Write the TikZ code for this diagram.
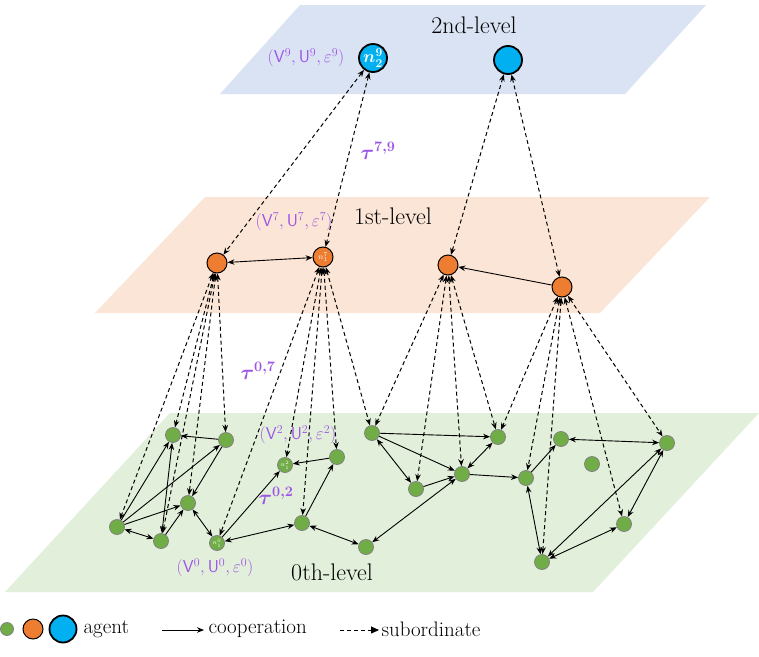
\documentclass[tikz,border=0pt]{standalone}
\usepackage{tikz}
\usepackage{bm}
\usetikzlibrary{graphs,arrows.meta}
\definecolor{planeblue}{RGB}{218,227,243}
\definecolor{planeorange}{RGB}{251,229,214}
\definecolor{planegreen}{RGB}{226,239,218}
\definecolor{agentgreen}{RGB}{112,173,71}
\definecolor{agentorange}{RGB}{237,125,49}
\definecolor{agentblue}{RGB}{0,176,240}
\definecolor{tuplepurple}{RGB}{158,84,230}
\tikzset{
    agent0/.style ={
        shape=circle,
        draw=gray,
        fill=agentgreen,
        line width=0.8pt,
        text=white,
        inner sep=0pt,
        font=\fontsize{6}{6}\selectfont,
        minimum size=15pt
    },
    agent1/.style ={
        shape=circle,
        draw=black,
        fill=agentorange,
        line width=1pt,
        text=white,
        inner sep=0pt,
        font=\fontsize{8}{8}\selectfont,
        minimum size=20pt
    },
    agent2/.style ={
        shape=circle,
        draw=black,
        fill=agentblue,
        line width=1.8pt,
        text=white,
        inner sep=0pt,
        font=\fontsize{17}{17}\selectfont,
        minimum size=28pt
    },
    coop/.style ={
        line width=0.9pt
    },
    sub/.style ={
        line width=1pt,
        dash pattern=on 4pt off 3pt
    },
    levelname/.style ={
        font=\fontsize{24}{28}\selectfont
    },
    tuple/.style ={
        text=tuplepurple,
        font=\fontsize{18}{20}\selectfont
    },
    tau/.style ={
        text=tuplepurple,
        font=\fontsize{21}{22}\selectfont
    },
    legendtext/.style ={
        anchor=west,
        font=\fontsize{21}{24}\selectfont
    }
}

\begin{document}
\begin{tikzpicture}[x=1pt,y=-1pt,>={Stealth[length=7pt,width=5.5pt]}]
    \useasboundingbox[fill=white] (0,0) rectangle (759,656);
    % planes
    \fill[planeblue] (300,5) -- (706,5) -- (625,94) -- (220,94) -- cycle;
    \fill[planeorange] (205,197) -- (710,197) -- (600,313) -- (95,313) -- cycle;
    \fill[planegreen] (170,413) -- (759,413) -- (593,592) -- (5,592) -- cycle;
    \node[levelname] (l2) at (474,25) {2nd-level};
    \node[levelname] (l1) at (393,216) {1st-level};
    \node[levelname] (l0) at (332,572) {0th-level};

    % 2nd level
    \node[agent2] (u1) at (373,58) {$\bm{n^9_2}$};
    \node[agent2] (u2) at (508,60) {};
    % 1st level
    \node[agent1] (m1) at (217,263) {};
    \node[agent1] (m2) at (323,257) {$n^{7}_{1}$};
    \node[agent1] (m3) at (448,265) {};
    \node[agent1] (m4) at (562,287) {};
    % 0th level
    \node[agent0] (g1) at (173,435) {};
    \node[agent0] (g2) at (226,440) {};
    \node[agent0] (g3) at (285,465) {$n^{2}_{1}$};
    \node[agent0] (g4) at (337,457) {};
    \node[agent0] (g5) at (188,503) {};
    \node[agent0] (g6) at (117,527) {};
    \node[agent0] (g7) at (161,541) {};
    \node[agent0] (g8) at (217,543) {$n^{0}_{1}$};
    \node[agent0] (g9) at (302,523) {};
    \node[agent0] (g10) at (366,547) {};
    \node[agent0] (g11) at (372,433) {};
    \node[agent0] (g12) at (498,437) {};
    \node[agent0] (g13) at (416,489) {};
    \node[agent0] (g14) at (462,474) {};
    \node[agent0] (g15) at (526,478) {};
    \node[agent0] (g16) at (561,439) {};
    \node[agent0] (g17) at (592,464) {};
    \node[agent0] (g18) at (667,443) {};
    \node[agent0] (g19) at (624,524) {};
    \node[agent0] (g20) at (542,562) {};

    % labels
    \node[tuple] (t9) at (306,58) {$(\mathsf{V}^9, \mathsf{U}^9, \varepsilon^9)$};
    \node[tuple] (t7) at (294,222) {$(\mathsf{V}^7, \mathsf{U}^7, \varepsilon^7)$};
    \node[tuple] (t2) at (298,435) {$(\mathsf{V}^2, \mathsf{U}^2, \varepsilon^2)$};
    \node[tuple] (t0) at (215,568) {$(\mathsf{V}^0, \mathsf{U}^0, \varepsilon^0)$};
    \node[tau] (tau79) at (378,151) {$\bm{\tau^{7,9}}$};
    \node[tau] (tau07) at (258,371) {$\bm{\tau^{0,7}}$};
    \node[tau] (tau02) at (276,496) {$\bm{\tau^{0,2}}$};

    \graph[edges={sub}]{
        (u1)<->(m1); (u1)<->(m2);
        (u2)<->(m3); (u2)<->(m4);
        (m1)<->(g1); (m1)<->(g2); (m1)<->(g5); (m1)<->(g6); (m1)<->(g7);
        (m2)<->(g8); (m2)<->(g3); (m2)<->(g9); (m2)<->(g4); (m2)<->(g11);
        (m3)<->(g11); (m3)<->(g13); (m3)<->(g14); (m3)<->(g12);
        (m4)<->(g12); (m4)<->(g15); (m4)<->(g20); (m4)<->(g19); (m4)<->(g18);
    };
    \graph[edges={coop}]{
        (m1)<->(m2); (m4)->(m3);
        (g2)->(g1); (g6)->(g1); (g7)<->(g1); (g2)->(g5);
        (g6)->(g2); (g6)->(g5); (g6)<->(g7); (g7)->(g5);
        (g5)<->(g8); (g8)<->(g9); (g8)->(g3); (g4)->(g3);
        (g9)->(g4); (g9)<->(g10); (g10)<->(g14);
        (g11)->(g12); (g11)<->(g13); (g11)->(g14); (g13)->(g14);
        (g14)<->(g12); (g14)->(g15); (g15)->(g16); (g15)<->(g20);
        (g16)<->(g18); (g20)<->(g18); (g20)<->(g19); (g19)<->(g18);
    };

    % legend
    \node[agent0,minimum size=13pt] (k0) at (7,629) {};
    \node[agent1] (k1) at (33,629) {};
    \node[agent2,minimum size=27pt] (k2) at (63,629) {};
    \node[legendtext] (kt) at (80,629) {agent};
    \coordinate (c1) at (162,630);
    \coordinate (c2) at (204,630);
    \draw[coop,->] (c1) -- (c2);
    \node[legendtext] (ct) at (205,629) {cooperation};
    \coordinate (s1) at (340,630);
    \coordinate (s2) at (379,630);
    \draw[sub,-{Triangle[length=8pt,width=7pt]}] (s1) -- (s2);
    \node[legendtext] (st) at (378,629) {subordinate};
\end{tikzpicture}
\end{document}
